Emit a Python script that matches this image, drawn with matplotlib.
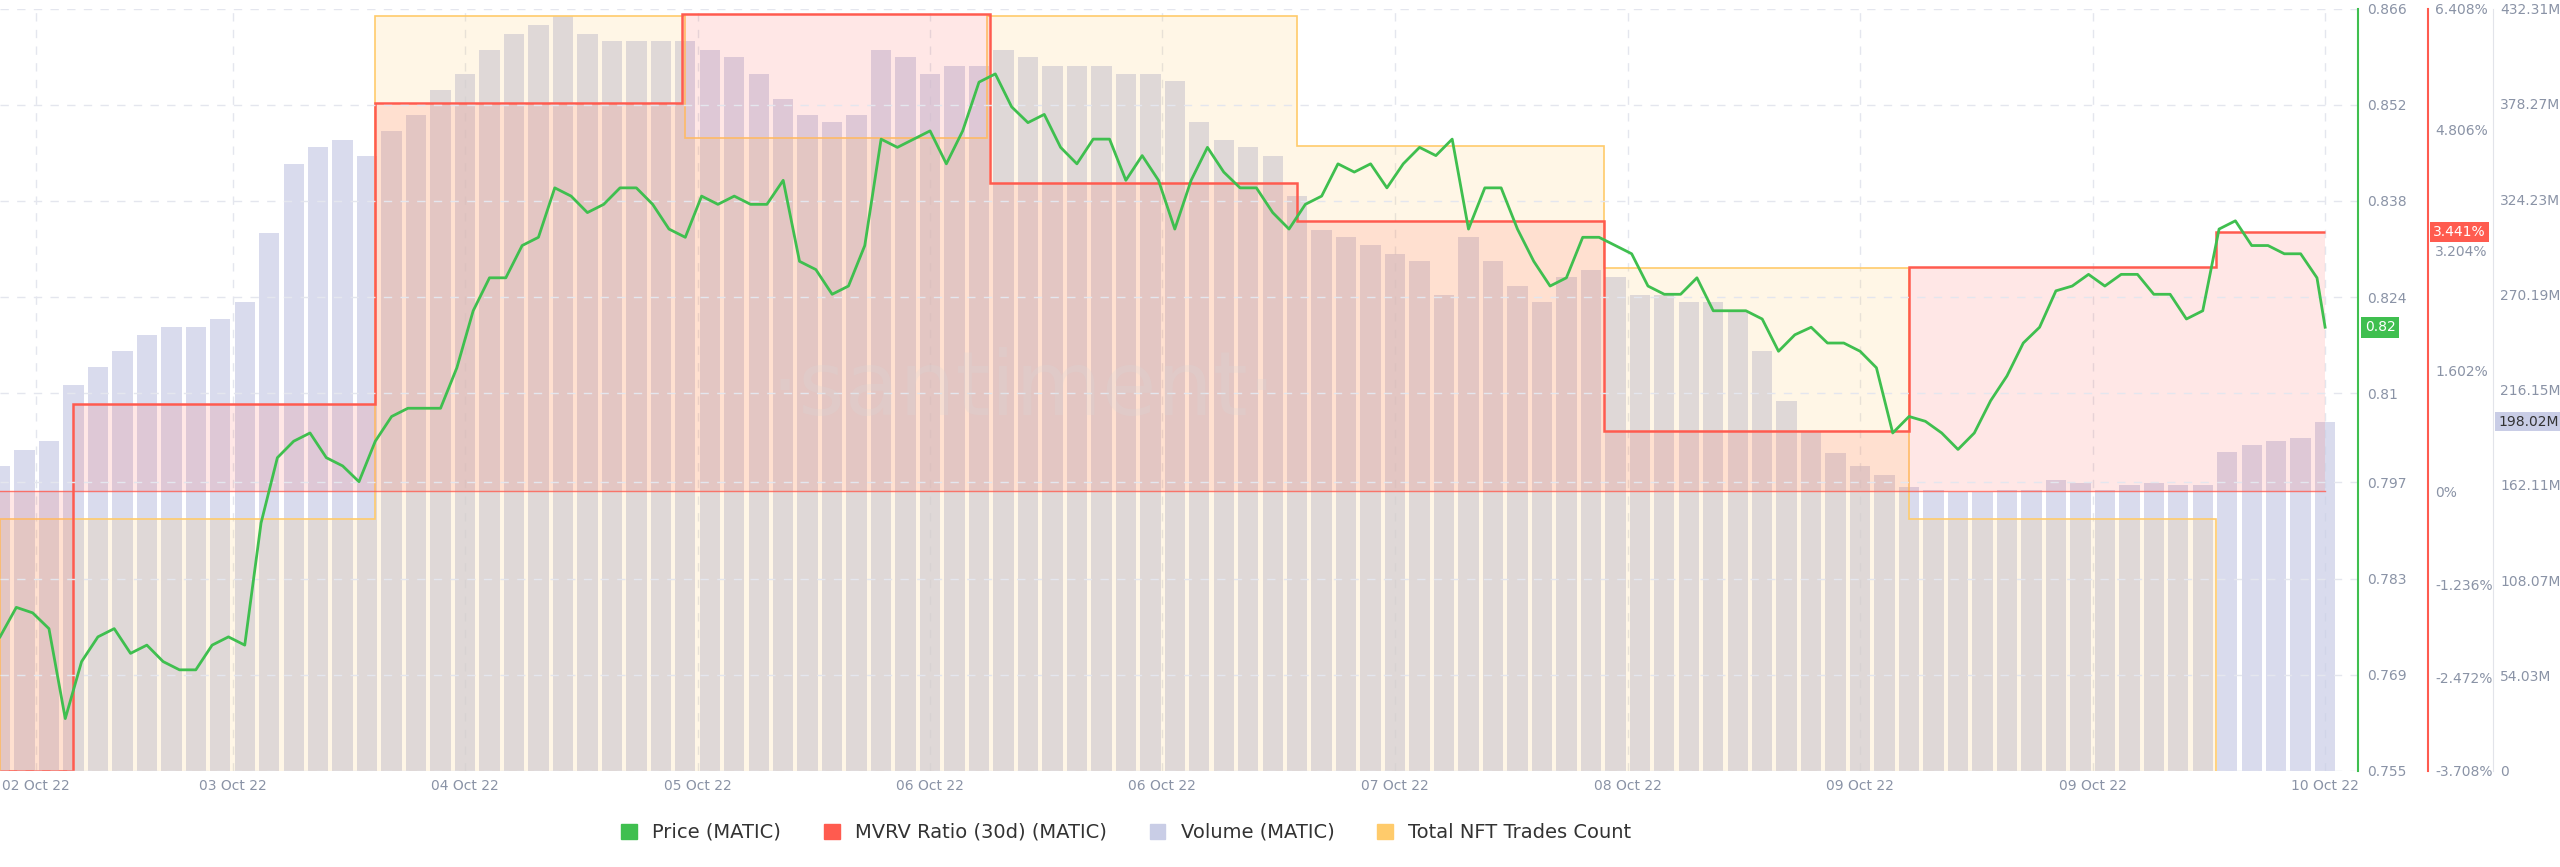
import numpy as np
import matplotlib.pyplot as plt
from matplotlib.patches import Patch

# time axis in chart units (sample positions)
price_t = np.append(np.arange(0, 1421, 10), 1425)
price = [0.7745, 0.7788, 0.7780, 0.7757, 0.7626, 0.7709, 0.7745, 0.7757, 0.7721, 0.7733,
         0.7709, 0.7697, 0.7697, 0.7733, 0.7745, 0.7733, 0.7911, 0.8006, 0.8030, 0.8042,
         0.8006, 0.7994, 0.7971, 0.8030, 0.8066, 0.8078, 0.8078, 0.8078, 0.8137, 0.8220,
         0.8268, 0.8268, 0.8315, 0.8327, 0.8399, 0.8387, 0.8363, 0.8375, 0.8399, 0.8399,
         0.8375, 0.8339, 0.8327, 0.8387, 0.8375, 0.8387, 0.8375, 0.8375, 0.8410, 0.8292,
         0.8280, 0.8244, 0.8256, 0.8315, 0.8470, 0.8458, 0.8470, 0.8482, 0.8434, 0.8482,
         0.8553, 0.8565, 0.8517, 0.8494, 0.8506, 0.8458, 0.8434, 0.8470, 0.8470, 0.8410,
         0.8446, 0.8410, 0.8339, 0.8410, 0.8458, 0.8422, 0.8399, 0.8399, 0.8363, 0.8339,
         0.8375, 0.8387, 0.8434, 0.8422, 0.8434, 0.8399, 0.8434, 0.8458, 0.8446, 0.8470,
         0.8339, 0.8399, 0.8399, 0.8339, 0.8292, 0.8256, 0.8268, 0.8327, 0.8327, 0.8315,
         0.8303, 0.8256, 0.8244, 0.8244, 0.8268, 0.8220, 0.8220, 0.8220, 0.8208, 0.8161,
         0.8185, 0.8196, 0.8173, 0.8173, 0.8161, 0.8137, 0.8042, 0.8066, 0.8059, 0.8042,
         0.8018, 0.8042, 0.8089, 0.8125, 0.8173, 0.8196, 0.8249, 0.8256, 0.8273, 0.8256,
         0.8273, 0.8273, 0.8244, 0.8244, 0.8208, 0.8220, 0.8339, 0.8351, 0.8315, 0.8315,
         0.8303, 0.8303, 0.8268, 0.8196]

vol_t = np.arange(0, 1426, 15)
volume = [173, 182, 187, 219, 229, 238, 247, 252, 252, 256, 266, 305, 344, 354, 358, 349,
          363, 372, 386, 395, 409, 418, 423, 428, 418, 414, 414, 414, 414, 409, 405, 395,
          381, 372, 368, 372, 409, 405, 395, 400, 400, 409, 405, 400, 400, 400, 395, 395,
          391, 368, 358, 354, 349, 326, 307, 303, 298, 293, 289, 270, 303, 289, 275, 266,
          280, 284, 280, 270, 270, 266, 266, 261, 238, 210, 192, 180, 173, 168, 161, 159,
          158, 158, 159, 159, 165, 163, 159, 162, 163, 162, 162, 181, 185, 187, 189, 198]

mvrv_edges = [0, 45, 230, 418, 607, 795, 983, 1170, 1358, 1425]
mvrv = [-3.708, 1.166, 5.152, 6.343, 4.09, 3.592, 0.798, 2.985, 3.441]

nft_edges = [0, 230, 420, 605, 795, 983, 1170, 1358]
nft = [330, 990, 830, 990, 820, 660, 330]

xtick_pos = [22, 143, 285, 428, 570, 712, 855, 998, 1140, 1283, 1425]
xtick_labels = ['02 Oct 22', '03 Oct 22', '04 Oct 22', '05 Oct 22', '06 Oct 22', '06 Oct 22',
                '07 Oct 22', '08 Oct 22', '09 Oct 22', '09 Oct 22', '10 Oct 22']

price_ticks = [0.755, 0.769, 0.783, 0.797, 0.81, 0.824, 0.838, 0.852, 0.866]
price_labels = ['0.755', '0.769', '0.783', '0.797', '0.81', '0.824', '0.838', '0.852', '0.866']
mvrv_ticks = [-3.708, -2.472, -1.236, 0, 1.602, 3.204, 4.806, 6.408]
vol_ticks = [0, 54.03, 108.07, 162.11, 216.15, 270.19, 324.23, 378.27, 432.31]

GREEN = '#3fbf4f'
RED = '#ff5b4f'
VOLC = '#c9cde6'
ORANGE = '#ffcb6b'
TICKC = '#8a93a6'
FS = 10

fig = plt.figure(figsize=(25.6, 8.67), dpi=100)
W = 0.921
ax = fig.add_axes([0.0, 0.111, W, 0.879])
ax.set_xlim(0, 1445)


def fig_to_axes(fx):
    return fx / W


# volume bars
ax.bar(vol_t, volume, width=12.5, color=VOLC, alpha=0.7, align='center', zorder=1)
ax.set_ylim(0, 432.31)
ax.set_yticks([])
for s in ax.spines.values():
    s.set_visible(False)

# NFT trades count (hidden axis)
ax_n = ax.twinx()
ax_n.stairs(nft, nft_edges, baseline=0, fill=True, color=ORANGE, alpha=0.17, zorder=2)
ax_n.stairs(nft, nft_edges, baseline=0, color=ORANGE, lw=1.2, zorder=2)
ax_n.set_ylim(0, 1000)
ax_n.set_yticks([])
for s in ax_n.spines.values():
    s.set_visible(False)

# MVRV
ax_m = ax.twinx()
ax_m.stairs(mvrv, mvrv_edges, baseline=0, fill=True, color=RED, alpha=0.14, zorder=3)
ax_m.stairs(mvrv, mvrv_edges, baseline=None, color=RED, lw=1.8, zorder=3)
ax_m.axhline(0, xmax=1425 / 1445, color=RED, lw=1.0, alpha=0.8)
ax_m.set_ylim(-3.708, 6.408)
ax_m.set_yticks(mvrv_ticks)
ax_m.set_yticklabels([f'{v:g}%' for v in mvrv_ticks])
m_pos = fig_to_axes(0.9486)
ax_m.spines['right'].set_position(('axes', m_pos))
ax_m.spines['right'].set_color(RED)
ax_m.spines['right'].set_linewidth(1.5)
for k in ['top', 'left', 'bottom']:
    ax_m.spines[k].set_visible(False)
ax_m.tick_params(axis='y', colors=TICKC, labelsize=FS, length=0, pad=5)
ax_m.text(m_pos + 0.002, (3.441 + 3.708) / 10.116, '3.441%', transform=ax_m.transAxes,
          fontsize=FS, color='white', va='center', ha='left',
          bbox=dict(boxstyle='square,pad=0.2', fc=RED, ec='none'))

# volume axis labels
ax_v = ax.twinx()
ax_v.set_ylim(0, 432.31)
ax_v.set_yticks(vol_ticks)
ax_v.set_yticklabels(['0'] + [f'{v:.2f}M' for v in vol_ticks[1:]])
v_pos = fig_to_axes(0.974)
ax_v.spines['right'].set_position(('axes', v_pos))
ax_v.spines['right'].set_color('#e2e4ea')
for k in ['top', 'left', 'bottom']:
    ax_v.spines[k].set_visible(False)
ax_v.tick_params(axis='y', colors=TICKC, labelsize=FS, length=0, pad=5)
ax_v.text(v_pos + 0.002, volume[-1] / 432.31, '198.02M', transform=ax_v.transAxes,
          fontsize=FS, color='#333333', va='center', ha='left',
          bbox=dict(boxstyle='square,pad=0.2', fc=VOLC, ec='none'))

# price
ax_p = ax.twinx()
ax_p.plot(price_t, price, color=GREEN, lw=2, zorder=5)
ax_p.set_ylim(0.755, 0.866)
ax_p.set_yticks(price_ticks)
ax_p.set_yticklabels(price_labels)
ax_p.spines['right'].set_color(GREEN)
ax_p.spines['right'].set_linewidth(1.5)
for k in ['top', 'left', 'bottom']:
    ax_p.spines[k].set_visible(False)
ax_p.tick_params(axis='y', colors=TICKC, labelsize=FS, length=0, pad=7)
ax_p.grid(axis='y', color='#e4e6ee', ls=(0, (6, 6)), lw=1)
ax_p.text(1.003, (price[-1] - 0.755) / 0.111, '0.82', transform=ax_p.transAxes,
          fontsize=FS, color='white', va='center', ha='left',
          bbox=dict(boxstyle='square,pad=0.25', fc=GREEN, ec='none'))

ax.set_xticks(xtick_pos)
ax.set_xticklabels(xtick_labels)
ax.tick_params(axis='x', colors=TICKC, labelsize=FS, length=0, pad=6)
ax.grid(axis='x', color='#e4e6ee', ls=(0, (6, 6)), lw=1)
ax.set_axisbelow(True)

fig.text(0.40, 0.55, '·santiment·', fontsize=64, color='#d8d8d8', alpha=0.25,
         ha='center', va='center')

handles = [Patch(color=GREEN), Patch(color=RED), Patch(color=VOLC), Patch(color=ORANGE)]
fig.legend(handles, ['Price (MATIC)', 'MVRV Ratio (30d) (MATIC)', 'Volume (MATIC)',
                     'Total NFT Trades Count'],
           loc='center', bbox_to_anchor=(0.44, 0.04), ncol=4, frameon=False,
           fontsize=14, handlelength=0.8, handleheight=0.8, columnspacing=2.2,
           labelcolor='#333333')

fig.savefig('out.png', dpi=100)
